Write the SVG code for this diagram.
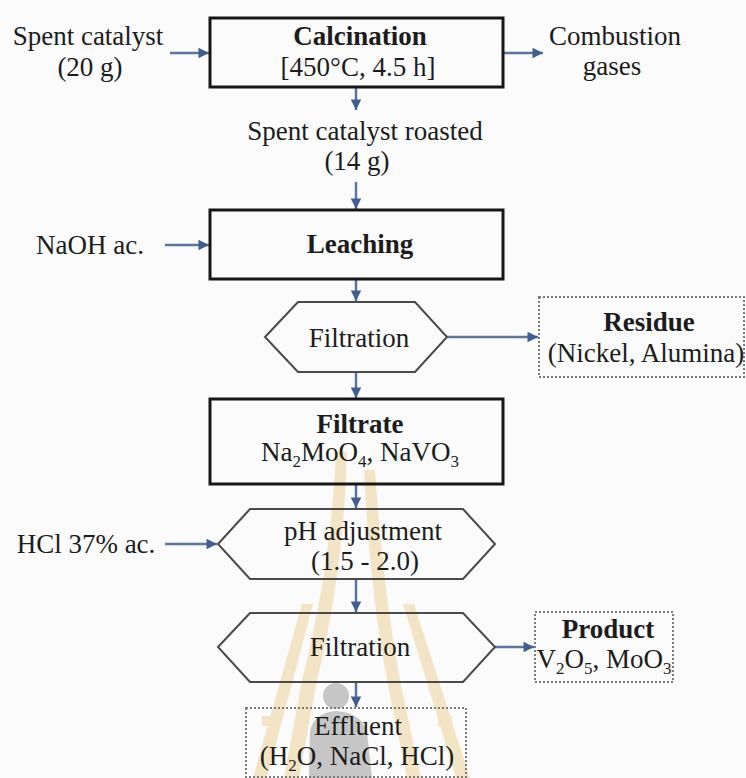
<svg xmlns="http://www.w3.org/2000/svg" width="746" height="778" viewBox="0 0 746 778">
  <style>
    text { font-family: "Liberation Serif", "Times New Roman", serif; font-size: 27px; fill: #1c1c1c; text-anchor: middle; }
    .b { font-weight: bold; }
    .sub { font-size: 17px; }
    .box { fill: none; stroke: #161616; stroke-width: 3; }
    .hex { fill: none; stroke: #4a4a4a; stroke-width: 2; stroke-linejoin: miter; }
    .dot { fill: none; stroke: #7c7c7c; stroke-width: 2; stroke-dasharray: 2 2; }
    .flow { fill: none; stroke: #5a75a0; stroke-width: 2.5; marker-end: url(#head); }
    .gold { fill: #efd6a2; }
  </style>
  <defs>
    <marker id="head" viewBox="0 0 10 10" refX="10" refY="5" markerWidth="4.6" markerHeight="4.2" markerUnits="strokeWidth" orient="auto">
      <path d="M0,0 L10,5 L0,10 Z" fill="#3f5f93"/>
    </marker>
  </defs>

  <rect x="0" y="0" width="746" height="778" fill="#fbfbfb"/>

  <!-- faint emblem behind the lower part of the chart -->
  <g id="emblem" opacity="0.6">
    <path class="gold" d="M336,452 L347,452 C345,520 337,600 317,680 L299,778 L284,778 L302,680 C323,600 333,520 336,452 Z"/>
    <path class="gold" d="M364,470 L375,470 C380,540 388,620 402,690 L421,778 L407,778 L389,690 C375,620 367,540 364,470 Z"/>
    <polygon class="gold" points="302,604 313,604 267,778 253,778"/>
    <polygon class="gold" points="403,604 414,604 470,778 456,778"/>
    <rect class="gold" x="262" y="716" width="14" height="10"/>
    <rect class="gold" x="438" y="716" width="14" height="10"/>
    <g fill="#a3a3a3">
      <circle cx="336" cy="696" r="13"/>
      <path d="M309,778 L310,732 Q313,713 336,711 Q362,713 367,732 L372,778 Z"/>
    </g>
  </g>

  <g id="connectors">
    <line class="flow" x1="170" y1="53" x2="209" y2="53"/>
    <line class="flow" x1="503" y1="53" x2="543" y2="53"/>
    <line class="flow" x1="356" y1="87" x2="356" y2="110"/>
    <line class="flow" x1="356" y1="182" x2="356" y2="209"/>
    <line class="flow" x1="165" y1="245" x2="209" y2="245"/>
    <line class="flow" x1="356" y1="279" x2="356" y2="301"/>
    <line class="flow" x1="447" y1="337" x2="538" y2="337"/>
    <line class="flow" x1="356" y1="372" x2="356" y2="398"/>
    <line class="flow" x1="356" y1="484" x2="356" y2="508"/>
    <line class="flow" x1="165" y1="544" x2="217" y2="544"/>
    <line class="flow" x1="356" y1="579" x2="356" y2="612"/>
    <line class="flow" x1="495" y1="647" x2="534" y2="647"/>
    <line class="flow" x1="356" y1="682" x2="356" y2="707"/>
  </g>

  <g id="feed">
    <text x="88" y="45">Spent catalyst</text>
    <text x="90" y="76">(20 g)</text>
  </g>

  <g id="calcination">
    <rect class="box" x="210" y="18" width="293" height="69"/>
    <text class="b" x="360" y="45">Calcination</text>
    <text x="358" y="76">[450°C, 4.5 h]</text>
  </g>

  <g id="gases">
    <text x="615" y="45">Combustion</text>
    <text x="612" y="75">gases</text>
  </g>

  <g id="roasted">
    <text x="365" y="140">Spent catalyst roasted</text>
    <text x="357" y="170">(14 g)</text>
  </g>

  <g id="naoh">
    <text x="90" y="254">NaOH ac.</text>
  </g>

  <g id="leaching">
    <rect class="box" x="210" y="210" width="293" height="69"/>
    <text class="b" x="360" y="253">Leaching</text>
  </g>

  <g id="filtration-1">
    <polygon class="hex" points="265,337 298,302 415,302 447,337 415,372 298,372"/>
    <text x="359" y="347">Filtration</text>
  </g>

  <g id="residue">
    <rect class="dot" x="539" y="297" width="205" height="80"/>
    <text class="b" x="649" y="331">Residue</text>
    <text x="646" y="362">(Nickel, Alumina)</text>
  </g>

  <g id="filtrate">
    <rect class="box" x="210" y="399" width="293" height="85"/>
    <text class="b" x="360" y="433">Filtrate</text>
    <text x="360" y="461">Na<tspan class="sub" dy="6">2</tspan><tspan dy="-6">MoO</tspan><tspan class="sub" dy="6">4</tspan><tspan dy="-6">, NaVO</tspan><tspan class="sub" dy="6">3</tspan></text>
  </g>

  <g id="hcl">
    <text x="86" y="553">HCl 37% ac.</text>
  </g>

  <g id="ph-adjustment">
    <polygon class="hex" points="218,544 250,509 463,509 495,544 463,579 250,579"/>
    <text x="363" y="540">pH adjustment</text>
    <text x="365" y="570">(1.5 - 2.0)</text>
  </g>

  <g id="filtration-2">
    <polygon class="hex" points="218,647 250,613 463,613 495,647 463,682 250,682"/>
    <text x="360" y="656">Filtration</text>
  </g>

  <g id="product">
    <rect class="dot" x="535" y="612" width="138" height="70"/>
    <text class="b" x="608" y="638">Product</text>
    <text x="604" y="668">V<tspan class="sub" dy="6">2</tspan><tspan dy="-6">O</tspan><tspan class="sub" dy="6">5</tspan><tspan dy="-6">, MoO</tspan><tspan class="sub" dy="6">3</tspan></text>
  </g>

  <g id="effluent">
    <rect class="dot" x="246" y="708" width="220" height="69"/>
    <text x="358" y="735">Effluent</text>
    <text x="357" y="765">(H<tspan class="sub" dy="6">2</tspan><tspan dy="-6">O, NaCl, HCl)</tspan></text>
  </g>
</svg>
